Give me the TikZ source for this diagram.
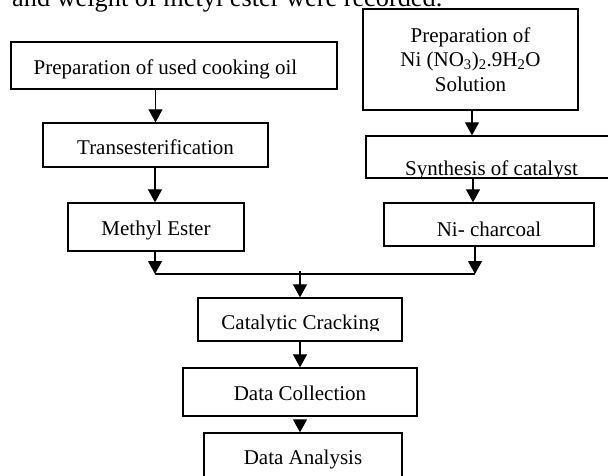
\documentclass[tikz,border=0pt]{standalone}
\usepackage{fontspec}
\setmainfont{Liberation Serif}
\usetikzlibrary{arrows.meta}
\newcommand\lowerby[2]{\raisebox{-#1}[\height][\depth]{#2}}
\begin{document}
\begin{tikzpicture}[x=1pt,y=-1pt,
  box/.style={draw, line width=1.3pt, inner sep=0pt, align=center,
    font=\fontsize{21}{24.5}\selectfont},
  txt/.style={inner sep=0pt, font=\fontsize{21}{24.5}\selectfont},
  arr/.style={line width=1.2pt, -{Triangle[width=14pt,length=13pt]}},
  ln/.style={line width=1.2pt}]
\useasboundingbox (0,0) rectangle (608,475);
% cut-off running text at top
\node[inner sep=0pt, anchor=base west, font=\fontsize{26.3}{30}\selectfont] (top) at (12,6.5) {and weight of metyl ester were recorded.};
% left column
\node[box, minimum width=326pt, minimum height=47pt] (oil) at (174,65.5) {\lowerby{3.5pt}{Preparation of used cooking oil\hspace{17pt}}};
\node[box, minimum width=225pt, minimum height=44pt] (trans) at (155.5,145) {\lowerby{2pt}{Transesterification}};
\node[box, minimum width=176pt, minimum height=48pt] (me) at (156,227) {\lowerby{3pt}{Methyl Ester}};
% right column
\node[box, minimum width=215pt, minimum height=101pt] (ni) at (470.5,59.5) {Preparation of\\Ni (NO\textsubscript{3})\textsubscript{2}.9H\textsubscript{2}O\\Solution};
\node[box, minimum width=248pt, minimum height=42pt] (syn) at (490,157) {};
\begin{scope}
  \clip (367,137) rectangle (608,176.5);
  \node[txt, anchor=base] (synT) at (491.5,175) {Synthesis of catalyst};
\end{scope}
\node[box, minimum width=210pt, minimum height=43pt] (nic) at (489,224.5) {\lowerby{4.5pt}{Ni- charcoal}};
% centre column
\node[box, minimum width=204pt, minimum height=43pt] (cat) at (300,319.5) {};
\begin{scope}
  \clip (199,299) rectangle (401,330.5);
  \node[txt, anchor=base] (catT) at (300.5,329.3) {Catalytic Cracking};
\end{scope}
\node[box, minimum width=234pt, minimum height=48pt] (col) at (300,392) {\lowerby{1pt}{Data Collection}};
\node[box, minimum width=198pt, minimum height=50pt] (ana) at (303,458) {\lowerby{1pt}{Data Analysis}};
% junction
\coordinate (jl) at (155,274);
\coordinate (jr) at (475,274);
\coordinate (jc) at (300,271);
% connectors
\draw[arr] (trans.north |- oil.south) -- (trans.north);
\draw[arr] (trans.south -| 155,0) -- (me.north -| 155,0);
\draw[arr] (ni.south -| 472,0) -- (syn.north -| 472,0);
\draw[arr] (syn.south -| 473,0) -- (nic.north -| 473,0);
\draw[arr] (me.south -| jl) -- (jl);
\draw[arr] (nic.south -| jr) -- (jr);
\draw[ln] (jl) -- (jr);
\draw[arr] (jc) -- (cat.north);
\draw[arr] (cat.south) -- (col.north);
\draw[arr] ([yshift=-6pt]col.south -| 300,0) -- (ana.north -| 300,0);
\end{tikzpicture}
\end{document}
